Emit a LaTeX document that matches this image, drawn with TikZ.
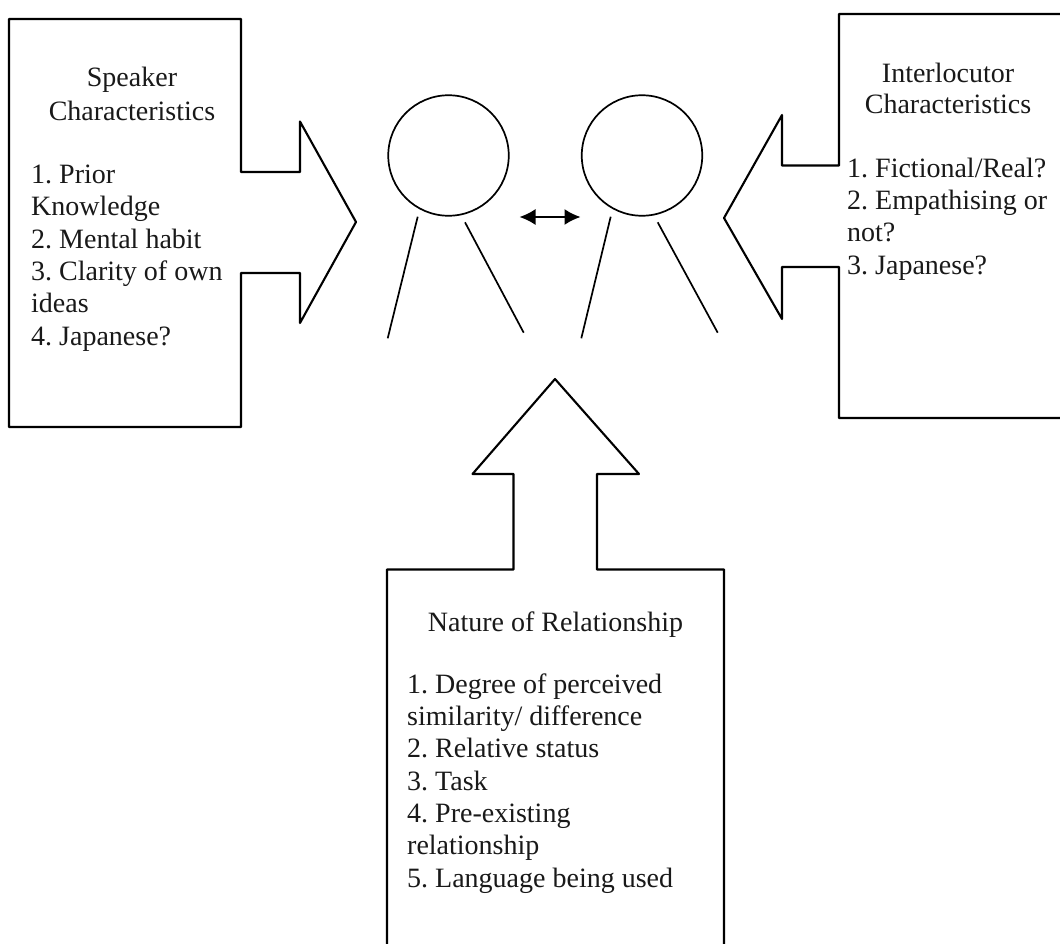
\documentclass[tikz,border=0pt]{standalone}
\usepackage{fontspec}
\usetikzlibrary{arrows.meta}
\setmainfont{Liberation Serif}
\begin{document}
\begin{tikzpicture}[x=1pt,y=-1pt,
  outline/.style={draw=black,line width=2.1pt,line join=round},
  thin outline/.style={draw=black,line width=1.7pt},
  lbl/.style={anchor=base west,inner sep=0pt,font=\frenchspacing\fontsize{28pt}{32.3pt}\selectfont,text=black!90,align=left},
  ctr/.style={anchor=base,inner sep=0pt,font=\frenchspacing\fontsize{28pt}{32.3pt}\selectfont,text=black!90}]
\useasboundingbox (0,0) rectangle (1060,944);
\fill[white] (0,0) rectangle (1060,944);
% left callout
\draw[outline] (241,19) -- (9,19) -- (9,427) -- (241,427) -- (241,273) -- (300,273) -- (300,323) -- (356,222) -- (300,121.5) -- (300,172) -- (241,172) -- cycle;
% right callout
\draw[outline] (1060,14) -- (839,14) -- (839,165.5) -- (782,165.5) -- (782,115) -- (724,218) -- (782,319) -- (782,267) -- (839,267) -- (839,418) -- (1060,418);
% bottom callout
\draw[outline] (387,944) -- (387,569.5) -- (513.5,569.5) -- (513.5,474) -- (472.5,474) -- (555,379) -- (639,474) -- (597,474) -- (597,569.5) -- (724,569.5) -- (724,944);
% figures
\node[circle,thin outline,minimum size=120.5pt,inner sep=0pt] (h1) at (448.5,155.5) {};
\node[circle,thin outline,minimum size=120.5pt,inner sep=0pt] (h2) at (642,155.5) {};
\coordinate (a1) at (417.7,216.7); \coordinate (a2) at (387.7,338.3);
\coordinate (b1) at (465,222.3); \coordinate (b2) at (523.7,332.7);
\coordinate (c1) at (610.7,216.7); \coordinate (c2) at (581.3,338.3);
\coordinate (d1) at (657.7,222.3); \coordinate (d2) at (717.7,332.7);
\draw[thin outline] (a1) -- (a2);
\draw[thin outline] (b1) -- (b2);
\draw[thin outline] (c1) -- (c2);
\draw[thin outline] (d1) -- (d2);
\coordinate (e1) at (519.5,217); \coordinate (e2) at (580.5,217);
\draw[line width=1.6pt,draw=black,{Latex[length=16pt,width=16pt]}-{Latex[length=16pt,width=16pt]}] (e1) -- (e2);
% texts
\node[ctr] (t1) at (132,87) {Speaker};
\node[ctr] (t2) at (132,121) {Characteristics};
\node[lbl] (t3) at (31,345) {1. Prior\\Knowledge\\2. Mental habit\\3. Clarity of own\\ideas\\4. Japanese?};
\node[ctr] (r1) at (948,83) {Interlocutor};
\node[ctr] (r2) at (948,114) {Characteristics};
\node[lbl] (r3) at (847,274) {1. Fictional/Real?\\2. Empathising or\\not?\\3. Japanese?};
\node[ctr] (b0) at (555.5,631) {Nature of Relationship};
\node[lbl] (b3) at (407,887) {1. Degree of perceived\\similarity/ difference\\2. Relative status\\3. Task\\4. Pre-existing\\relationship\\5. Language being used};
\end{tikzpicture}
\end{document}
